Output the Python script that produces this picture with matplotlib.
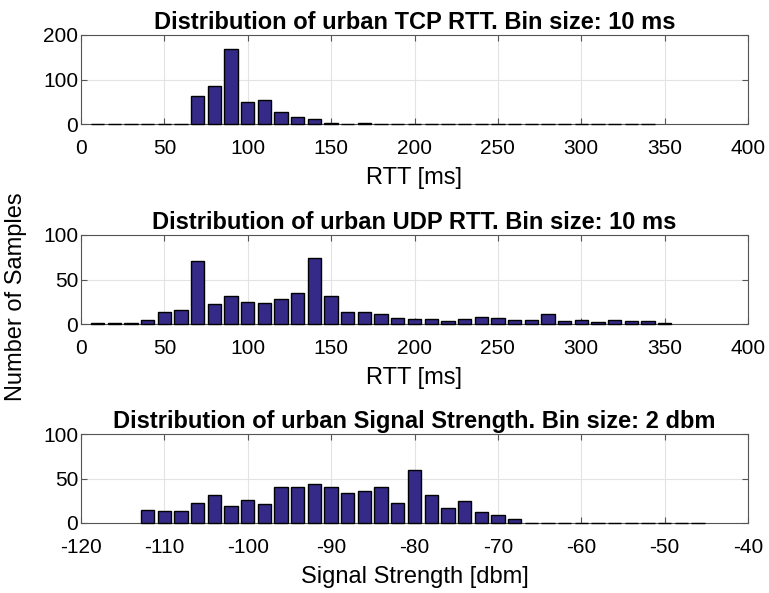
import numpy as np
import matplotlib
matplotlib.use('Agg')
import matplotlib.pyplot as plt

plt.rcParams['font.family'] = ['Liberation Sans', 'DejaVu Sans']
plt.rcParams['axes.unicode_minus'] = False

# TCP RTT histogram (bin centres, counts)
tcp_centers = np.arange(10, 350, 10)
tcp_counts = [0, 0, 0, 0, 0, 0, 62, 86, 168, 49, 55, 27, 15, 11,
              2, 1, 2, 1, 1, 0, 0, 0, 0, 0, 0, 0, 0, 0, 0, 0, 1, 0, 0, 0]

# UDP RTT histogram
udp_centers = np.arange(10, 360, 10)
udp_counts = [1, 1, 1, 4, 13, 16, 71, 22, 32, 25, 24, 28, 35, 74, 32,
              14, 13, 11, 7, 6, 6, 3, 6, 8, 7, 4, 5, 11, 3, 5,
              2, 5, 3, 3, 1]

# Signal strength histogram
sig_centers = np.arange(-112, -44, 2)
sig_counts = [15, 14, 14, 23, 31, 19, 26, 21, 40, 40, 44, 40, 34, 36,
              41, 23, 60, 31, 17, 25, 12, 9, 4,
              0, 0, 0, 0, 0, 0, 0, 0, 0, 0, 0, 0][:len(sig_centers)]

bar_color = '#352a87'
W, H = 769, 593

fig = plt.figure(figsize=(W / 100, H / 100), dpi=100)

panels = [
    (tcp_centers, tcp_counts, 10, (0, 400), np.arange(0, 401, 50), (0, 200), [0, 100, 200],
     'Distribution of urban TCP RTT. Bin size: 10 ms', 'RTT [ms]', (35, 124)),
    (udp_centers, udp_counts, 10, (0, 400), np.arange(0, 401, 50), (0, 100), [0, 50, 100],
     'Distribution of urban UDP RTT. Bin size: 10 ms', 'RTT [ms]', (235, 324)),
    (sig_centers, sig_counts, 2, (-120, -40), np.arange(-120, -39, 10), (0, 100), [0, 50, 100],
     'Distribution of urban Signal Strength. Bin size: 2 dbm', 'Signal Strength [dbm]', (434, 523)),
]

for centers, counts, binw, xlim, xticks, ylim, yticks, title, xlabel, (top, bot) in panels:
    ax = fig.add_axes([81 / W, 1 - bot / H, (748 - 81) / W, (bot - top) / H])
    ax.bar(centers, counts, width=0.8 * binw, color=bar_color,
           edgecolor='black', linewidth=1.0, zorder=3, clip_on=False)
    ax.set_xlim(*xlim)
    ax.set_ylim(*ylim)
    ax.set_xticks(xticks)
    ax.set_yticks(yticks)
    ax.grid(True, color='#e3e3e3', linewidth=0.8, zorder=0)
    ax.tick_params(direction='in', top=True, right=True, labelsize=15,
                   length=4, color='#555555')
    ax.tick_params(axis='x', pad=11)
    ax.tick_params(axis='y', pad=2)
    for s in ax.spines.values():
        s.set_color('#555555')
    ax.set_title(title, fontsize=17, fontweight='bold', pad=4)
    ax.set_xlabel(xlabel, fontsize=17, labelpad=6)

fig.text(16 / W, 1 - 297 / H, 'Number of Samples', rotation=90,
         ha='center', va='center', fontsize=17)

fig.savefig('out.png', dpi=100)
